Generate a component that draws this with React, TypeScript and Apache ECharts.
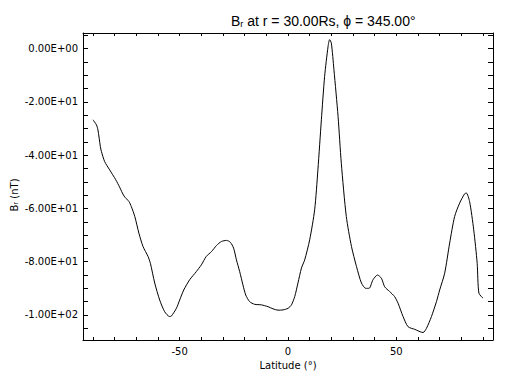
import React, { useEffect, useRef } from "react";
import * as echarts from "echarts";

const latitudes = [
  -90, -88.4, -87.7, -86.6, -86.1, -84.6, -82.3, -79.5, -77.7, -75.7, -73.4, -72.3, -70.7,
  -68.8, -66.9, -64.6, -63.5, -61.5, -59.2, -56.9, -54.6, -53.8, -51.5, -50, -48.1, -45.4,
  -42.3, -40, -37.7, -35.3, -33, -30.7, -28.4, -26.6, -25.1, -23.8, -22.3, -20.8, -19.5,
  -17.7, -15.4, -12.3, -9.2, -6.9, -4.6, -2.3, 0, 1.6, 3.1, 4.6, 6.2, 7.7, 10, 12.3, 13.8,
  15.4, 16.9, 18.5, 19.2, 20, 21.2, 23.1, 24.6, 26.9, 29.3, 31.6, 33.9, 35.9, 37.4, 39.2,
  41.3, 43.1, 44.6, 46.9, 49.2, 50.8, 53.1, 55.4, 58.5, 62.3, 63.9, 66.2, 68.5, 70, 72.3,
  74.6, 76.9, 79.2, 81.5, 82.3, 83.8, 85.7, 87.3, 88.1, 90,
];
const brValues = [
  -26.7, -28.6, -30.5, -36.7, -38.6, -42.4, -45.5, -49.2, -52, -55.3, -57.4, -59.3, -63,
  -69.3, -74.3, -78, -80.6, -88, -94.4, -98.8, -100.6, -100.4, -97.5, -94.4, -90.6, -86.8,
  -83.7, -81.2, -78, -76.2, -73.9, -72.4, -72, -72.7, -74.9, -79.3, -83.7, -88.7, -92.5,
  -95, -96, -96.2, -96.9, -97.7, -98.2, -98.1, -97.5, -96.2, -93.1, -88, -82.4, -79.3,
  -71.8, -60.5, -45.5, -26.7, -10.4, 0.9, 3.4, 2.1, -7.9, -25.4, -43, -63, -74.3, -81.8,
  -88, -90, -90, -86.8, -85, -86.2, -89.4, -91.2, -93.1, -95.6, -100.6, -104.4, -105.4,
  -106.6, -105, -100.6, -95, -90.6, -84.3, -73, -63, -58, -54.5, -54.2, -57.4, -68, -80.6,
  -91.8, -93.7,
];

const xTickValues = [-90, -80, -70, -60, -50, -40, -30, -20, -10, 0, 10, 20, 30, 40, 50, 60, 70, 80, 90];
const xLabelValues = [-50, 0, 50];
const yTickValues = [
  -105, -100, -95, -90, -85, -80, -75, -70, -65, -60, -55, -50, -45, -40, -35, -30, -25, -20,
  -15, -10, -5, 0, 5,
];
const yLabelValues = [-100, -80, -60, -40, -20, 0];

const X_MIN = -94.6;
const X_MAX = 94.6;
const Y_MIN = -109.4;
const Y_MAX = 5.9;

function fmtSci(v: number): string {
  if (v === 0) return "0.00E+00";
  const e = Math.floor(Math.log10(Math.abs(v)) + 1e-9);
  const m = v / Math.pow(10, e);
  const s = e < 0 ? "-" : "+";
  return m.toFixed(2) + "E" + s + String(Math.abs(e)).padStart(2, "0");
}

const FONT = "DejaVu Sans";
const TFONT = "Liberation Sans";

export default function App() {
  const ref = useRef<HTMLDivElement>(null);
  useEffect(() => {
    if (!ref.current) return;
    const chart = echarts.init(ref.current, null, { renderer: "svg" });
    const data = latitudes.map((x, i) => [x, brValues[i]]);
    const axisLine = { show: true, onZero: false, lineStyle: { color: "#000", width: 1 } };
    chart.setOption({
      animation: false,
      backgroundColor: "#fff",
      title: {
        text: "{b|B}{sub|r}{b| at r = 30.00Rs, ϕ = 345.00°}",
        left: 226,
        top: 5,
        textStyle: {
          fontWeight: "normal",
          rich: {
            b: { fontFamily: TFONT, fontSize: 14, fontWeight: "normal", color: "#000", verticalAlign: "bottom", lineHeight: 18 },
            sub: { fontFamily: TFONT, fontSize: 9, fontWeight: "normal", color: "#000", verticalAlign: "bottom", lineHeight: 13 },
          },
        },
      },
      graphic: [
        {
          type: "text",
          x: 6,
          y: 195,
          rotation: Math.PI / 2,
          style: {
            text: "{b|B}{sub|r}{b| (nT)}",
            align: "center",
            verticalAlign: "top",
            rich: {
              b: { fontFamily: FONT, fontSize: 10, fill: "#000", verticalAlign: "bottom", lineHeight: 13 },
              sub: { fontFamily: FONT, fontSize: 7, fill: "#000", verticalAlign: "bottom", lineHeight: 9 },
            },
          },
        },
      ],
      grid: { left: 83, right: 19, top: 33, bottom: 44, containLabel: false, show: false },
      xAxis: [
        {
          type: "value",
          min: X_MIN,
          max: X_MAX,
          position: "bottom",
          axisLine,
          axisTick: { show: true, inside: true, length: 3, customValues: xTickValues, lineStyle: { color: "#000" } },
          axisLabel: {
            show: true,
            customValues: xLabelValues,
            color: "#000",
            fontFamily: FONT,
            fontSize: 10,
            margin: 6,
          },
          splitLine: { show: false },
          name: "Latitude (°)",
          nameLocation: "middle",
          nameGap: 18,
          nameTextStyle: { color: "#000", fontFamily: FONT, fontSize: 10 },
        },
        {
          type: "value",
          min: X_MIN,
          max: X_MAX,
          position: "top",
          axisLine,
          axisTick: { show: true, inside: true, length: 3, customValues: xTickValues, lineStyle: { color: "#000" } },
          axisLabel: { show: false },
          splitLine: { show: false },
        },
      ],
      yAxis: [
        {
          type: "value",
          min: Y_MIN,
          max: Y_MAX,
          position: "left",
          axisLine,
          axisTick: { show: true, inside: true, length: 5, customValues: yTickValues, lineStyle: { color: "#000" } },
          axisLabel: {
            show: true,
            customValues: yLabelValues,
            formatter: (v: number) => fmtSci(v),
            color: "#000",
            fontFamily: FONT,
            fontSize: 10,
            margin: 5,
          },
          splitLine: { show: false },
        },
        {
          type: "value",
          min: Y_MIN,
          max: Y_MAX,
          position: "right",
          axisLine,
          axisTick: { show: true, inside: true, length: 5, customValues: yTickValues, lineStyle: { color: "#000" } },
          axisLabel: { show: false },
          splitLine: { show: false },
        },
      ],
      series: [
        {
          type: "line",
          data,
          xAxisIndex: 0,
          yAxisIndex: 0,
          showSymbol: false,
          smooth: 0.25,
          lineStyle: { color: "#000", width: 1 },
        },
      ],
    });
    return () => chart.dispose();
  }, []);
  return (
    <div
      ref={ref}
      style={{ position: "fixed", left: 0, top: 0, width: 512, height: 384, background: "#fff" }}
    />
  );
}
